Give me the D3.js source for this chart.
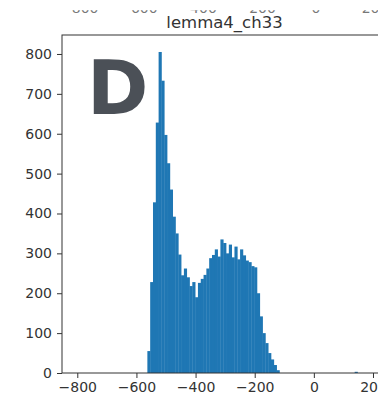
<!DOCTYPE html>
<html>
<head>
<meta charset="utf-8">
<script src="https://cdn.jsdelivr.net/npm/d3@7"></script>
<style>
  html, body { margin: 0; padding: 0; background: #fff; }
  svg { display: block; }
  text { font-family: "DejaVu Sans", sans-serif; }
</style>
</head>
<body>
<svg id="chart" width="378" height="397"></svg>
<script>
// Histogram of lemma4_ch33: equal-width bins starting at binStart
const title = "lemma4_ch33";
const panelLetter = "D";
const binStart = -563;
const binWidth = 9.5;
const counts = [
  55, 228, 428, 628, 805, 733, 597, 526, 460, 392,
  350, 297, 245, 262, 240, 218, 228, 190, 226, 236,
  246, 262, 288, 296, 310, 292, 335, 326, 300, 322,
  290, 317, 285, 310, 295, 282, 278, 268, 265, 200,
  142, 100, 75, 50, 34, 20, 7
];
// lone far-right bin
const outlierBins = [{ x0: 138, count: 3 }];
const xTicks = [-800, -600, -400, -200, 0, 200];
const yTicks = [0, 100, 200, 300, 400, 500, 600, 700, 800];
const xDomain = [-851.7, 237.2];
const yDomain = [0, 847.6];

const svg = d3.select("#chart");
const W = 378, H = 397;
const plot = { left: 62, right: 384, top: 35, bottom: 373 };

const x = d3.scaleLinear().domain(xDomain).range([plot.left, plot.right]);
const y = d3.scaleLinear().domain(yDomain).range([plot.bottom, plot.top]);

const fmt = d => (d < 0 ? "\u2212" + Math.abs(d) : String(d));

// tick labels of the panel above; a white band hides all but their lowest strip
svg.append("g").selectAll("text").data(xTicks).join("text")
  .attr("x", d => x(d) + 2)
  .attr("y", 12.5)
  .attr("text-anchor", "middle")
  .attr("font-size", 14)
  .attr("fill", "#777")
  .text(fmt);
svg.append("rect")
  .attr("x", 0).attr("y", 0).attr("width", W).attr("height", 10.2)
  .attr("fill", "#fff");

// bars
const bins = counts.map((c, i) => ({ x0: binStart + i * binWidth, count: c }))
  .concat(outlierBins);
svg.append("g")
  .selectAll("rect").data(bins).join("rect")
  .attr("x", d => x(d.x0))
  .attr("width", d => x(d.x0 + binWidth) - x(d.x0) + 0.35)
  .attr("y", d => y(d.count))
  .attr("height", d => y(0) - y(d.count))
  .attr("fill", "#1f77b4");

// axes
const xAxis = d3.axisBottom(x).tickValues(xTicks).tickFormat(fmt)
  .tickSize(5).tickPadding(4);
const yAxis = d3.axisLeft(y).tickValues(yTicks).tickFormat(d3.format("d"))
  .tickSize(5).tickPadding(5);

const gx = svg.append("g").attr("transform", `translate(0,${plot.bottom})`).call(xAxis);
const gy = svg.append("g").attr("transform", `translate(${plot.left},0)`).call(yAxis);
[gx, gy].forEach(g => {
  g.select(".domain").remove();
  g.selectAll(".tick line").attr("stroke", "#333").attr("stroke-width", 1);
  g.selectAll(".tick text").attr("fill", "#333").attr("font-size", 14)
    .attr("font-family", "DejaVu Sans, sans-serif");
});

// spines (right spine falls just outside the frame)
svg.append("rect")
  .attr("x", plot.left).attr("y", plot.top)
  .attr("width", plot.right - plot.left).attr("height", plot.bottom - plot.top)
  .attr("fill", "none").attr("stroke", "#333").attr("stroke-width", 1);

// title
svg.append("text")
  .attr("x", 224.5).attr("y", 27.5)
  .attr("text-anchor", "middle")
  .attr("font-size", 16.5)
  .attr("fill", "#333")
  .text(title);

// panel letter
svg.append("text")
  .attr("x", 87).attr("y", 114)
  .attr("font-size", 74)
  .attr("font-weight", "bold")
  .attr("fill", "#4b5057")
  .text(panelLetter);
</script>
</body>
</html>
